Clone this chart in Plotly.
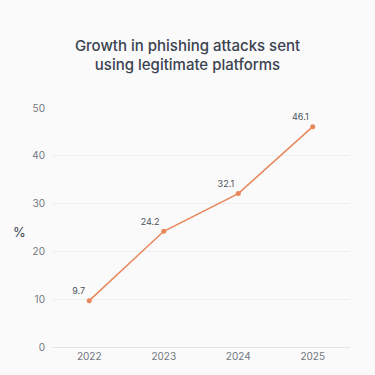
import plotly.graph_objects as go

years = ["2022", "2023", "2024", "2025"]
values = [9.7, 24.2, 32.1, 46.1]
value_labels = ["9.7", "24.2", "32.1", "46.1"]
y_ticks = [0, 10, 20, 30, 40, 50]

fig = go.Figure()
fig.add_trace(go.Scatter(
    x=years, y=values, mode="lines+markers+text",
    text=value_labels, textposition="top left",
    textfont=dict(size=9, color="#4a5260", family="Inter"),
    line=dict(color="#e8875a", width=1.5),
    marker=dict(color="#e8875a", size=5),
    hoverinfo="skip", cliponaxis=False,
))

fig.update_layout(
    width=375, height=375,
    margin=dict(l=52, r=25, t=108, b=28),
    paper_bgcolor="#fafafa", plot_bgcolor="#fafafa",
    showlegend=False,
    title=dict(text="Growth in phishing attacks sent<br>using legitimate platforms",
               x=0.5, xanchor="center", y=0.865, yanchor="bottom",
               font=dict(family="Inter", size=15, color="#3b4350", weight=500)),
    font=dict(family="Inter", color="#6b7280"),
)
fig.update_xaxes(type="category", range=[-0.5, 3.5], showgrid=False,
                 showline=True, linecolor="#e4e4e4", linewidth=1,
                 ticks="", tickfont=dict(size=10, color="#717780"))
fig.update_yaxes(range=[0, 50], tickvals=y_ticks, showgrid=True,
                 gridcolor="#efefef", gridwidth=1, zeroline=False,
                 ticks="", ticklabelstandoff=6,
                 tickfont=dict(size=10, color="#717780"))
fig.add_annotation(text="%", xref="paper", yref="paper", x=-0.08, y=0.48,
                   xanchor="right", yanchor="middle", showarrow=False,
                   font=dict(family="Inter", size=13, color="#3b4350"))
fig.write_html("out.html", config={"displayModeBar": False},
               post_script="document.body.style.margin='0';")
